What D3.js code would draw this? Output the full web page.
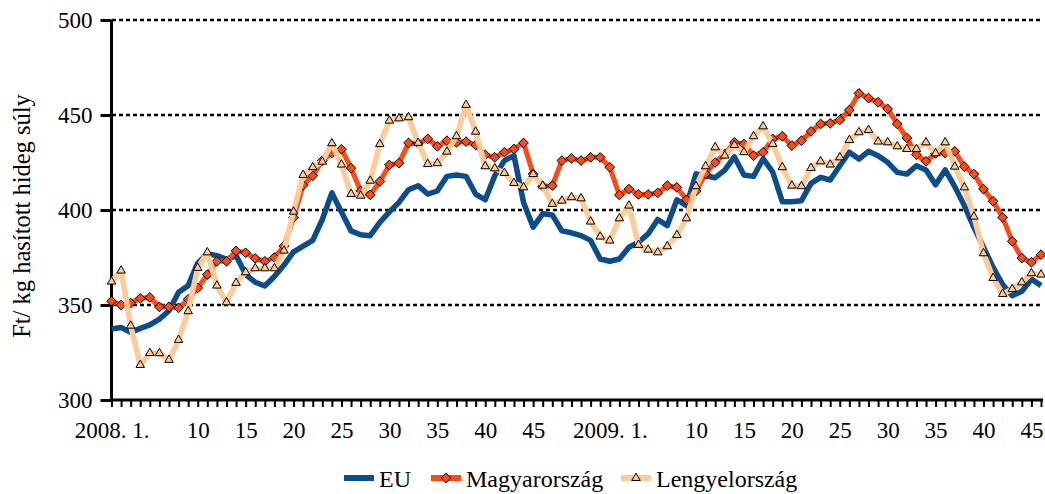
<!DOCTYPE html>
<html>
<head>
<meta charset="utf-8">
<script src="https://cdn.jsdelivr.net/npm/d3@7"></script>
<style>
  html, body { margin: 0; padding: 0; background: #fff; }
  svg { display: block; }
  text { font-family: "Liberation Serif", "DejaVu Serif", serif; fill: #000; }
</style>
</head>
<body>
<svg id="chart" width="1045" height="494"></svg>
<script>
// Categories: weeks of 2008 (1-52) and 2009 (1-46)
const categories = [
  ...d3.range(1, 53).map(w => "2008-" + w),
  ...d3.range(1, 47).map(w => "2009-" + w)
];
const tickCategories = ["2008-1","2008-10","2008-15","2008-20","2008-25","2008-30","2008-35","2008-40","2008-45",
                        "2009-1","2009-10","2009-15","2009-20","2009-25","2009-30","2009-35","2009-40","2009-45"];
const tickLabels = ["2008. 1.","10","15","20","25","30","35","40","45",
                    "2009. 1.","10","15","20","25","30","35","40","45"];
const yTicks = [300, 350, 400, 450, 500];
const gridValues = [350, 400, 450, 500];

const seriesNames = ["EU", "Magyarország", "Lengyelország"];

const euValues = [
  337.4,338.2,335.6,337.7,339.5,342.6,347,356.7,360.2,372,
  377,376,374,376,366,362,360,365,371,378,
  381,384,395,409,399,389,387,386.5,393.5,399,
  404,410.7,412.8,408.4,410,417.7,418.4,417.7,408.4,405.4,
  418,426,428.6,404,391,398,397.4,389,388,386.5,
  384,374.2,373,374.2,380.4,383,387.4,395,391.8,405.4,
  402.3,419,418,417,421,428,418.4,417.7,427,420,
  404.4,404.4,404.9,414,417.2,415.8,423.3,430.4,426.8,430.9,
  428.6,425.1,419.8,418.9,423.3,421.1,413.3,421.1,412.3,402.3,
  390.9,380.4,369.8,360.7,354.9,357.2,363.7,360.2
];
const huValues = [
  352,350,351,353.5,354,349,349,348.5,353,359,
  366,373,373,378.5,377.5,374.5,373,375,381,396,
  413,418,426,430,432,422,410,408,415,423.7,
  424.7,435.3,435,437.4,433.5,436.5,435.6,436,434.2,429,
  427.7,430.4,432.1,435.3,419,412.5,412.8,426,427.2,426,
  427.7,427.7,422.5,407.9,411,408.2,408.2,409,412.8,411.9,
  405.4,410,419,425,429.5,435.6,434.7,428.6,430.4,437.4,
  438.8,433.9,436.5,441.4,445.3,445.6,447.4,452.6,461.4,458.9,
  456.7,453.2,445.3,437.9,429.1,425.6,429.8,430,430.9,422.8,
  418.9,411,404.6,396.1,383.5,374.7,372.5,376.5
];
const plValues = [
  362.3,368.1,339.1,318.4,324.7,324.6,321.1,331.6,346.7,369.5,
  377.7,360.2,351.4,361.6,367.2,369.3,369.3,369.3,378.6,399.1,
  418.4,422.5,425.4,435.1,423.9,408.4,407.5,415.4,434.7,447,
  448.2,448.8,435.3,424.2,424.6,430.7,438.8,455.3,441.2,423,
  421.9,419.5,414.2,411.9,418.9,412.8,403.2,404.9,406.7,406.1,
  393.9,386,383.9,395.6,402.3,381.6,379.1,377.7,380.9,386.8,
  395.6,412.5,423,433,428.6,434.2,430.4,438.8,444,434.7,
  422.5,412.8,412.5,422.1,425.6,423.9,427.7,436.8,440.9,442.1,
  436,435.6,433.5,432.1,432.1,435.6,429.8,435.6,422.8,411.9,
  396.5,377.2,364.2,355.8,358.4,361.9,366.7,366
];

const colors = { eu: "#0b4c8c", hu: "#ff4a14", pl: "#fdca98" };

const svg = d3.select("#chart");
const x = d3.scalePoint().domain(categories).range([111.5, 1041]);
const y = d3.scaleLinear().domain([300, 500]).range([400, 20]);

// gridlines
svg.append("g").selectAll("line").data(gridValues).join("line")
  .attr("x1", 112).attr("x2", 1043)
  .attr("y1", d => y(d)).attr("y2", d => y(d))
  .attr("stroke", "#000").attr("stroke-width", 2.6)
  .attr("stroke-dasharray", "4,3");

// y axis
const yAxis = svg.append("g").attr("transform", "translate(111.5,0)")
  .call(d3.axisLeft(y).tickValues(yTicks).tickSize(11).tickPadding(8).tickFormat(d3.format("d")));
yAxis.select(".domain").attr("stroke", "#000").attr("stroke-width", 3).attr("d", `M0,${y(500)}V${y(300)}`);
yAxis.selectAll(".tick line").attr("stroke", "#000").attr("stroke-width", 3);
yAxis.selectAll(".tick text").style("font-size", "23px").style("font-family", '"Liberation Serif", serif').attr("fill", "#000");

// x axis
const labelMap = new Map(tickCategories.map((c, i) => [c, tickLabels[i]]));
const xAxis = svg.append("g").attr("transform", "translate(0,400)")
  .call(d3.axisBottom(x).tickValues(categories).tickSize(7).tickPadding(15)
    .tickFormat(c => labelMap.get(c) || ""));
xAxis.select(".domain").attr("stroke", "#000").attr("stroke-width", 3).attr("d", "M110,0H1043");
xAxis.selectAll(".tick line").attr("stroke", "#000").attr("stroke-width", 2);
xAxis.selectAll(".tick text").style("font-size", "23px").style("font-family", '"Liberation Serif", serif').attr("fill", "#000");

// y title
svg.append("text")
  .attr("transform", "translate(30,216) rotate(-90)")
  .attr("text-anchor", "middle")
  .style("font-size", "24.5px")
  .text("Ft/ kg hasított hideg súly");

const line = d3.line().x((d, i) => x(categories[i])).y(d => y(d));

const diamond = d3.symbol().type(d3.symbolDiamond2).size(60);
const triangle = d3.symbol().type(d3.symbolTriangle2).size(52);

// EU
svg.append("path").datum(euValues)
  .attr("d", line).attr("fill", "none").attr("stroke", colors.eu)
  .attr("stroke-width", 5.5).attr("stroke-linejoin", "round");

// Magyarország
svg.append("path").datum(huValues)
  .attr("d", line).attr("fill", "none").attr("stroke", colors.hu)
  .attr("stroke-width", 5).attr("stroke-linejoin", "round");
svg.append("g").selectAll("path").data(huValues).join("path")
  .attr("transform", (d, i) => `translate(${x(categories[i])},${y(d)})`)
  .attr("d", diamond).attr("fill", colors.hu).attr("stroke", "#000").attr("stroke-width", 1);

// Lengyelország
svg.append("path").datum(plValues)
  .attr("d", line).attr("fill", "none").attr("stroke", colors.pl)
  .attr("stroke-width", 5.5).attr("stroke-linejoin", "round");
svg.append("g").selectAll("path").data(plValues).join("path")
  .attr("transform", (d, i) => `translate(${x(categories[i])},${y(d)})`)
  .attr("d", triangle).attr("fill", colors.pl).attr("stroke", "#000").attr("stroke-width", 1);

// legend
const legend = svg.append("g").attr("transform", "translate(0,478)");
const items = [
  { name: seriesNames[0], color: colors.eu, x: 344, marker: null },
  { name: seriesNames[1], color: colors.hu, x: 431, marker: diamond },
  { name: seriesNames[2], color: colors.pl, x: 621, marker: triangle }
];
items.forEach(it => {
  legend.append("line").attr("x1", it.x).attr("x2", it.x + 30).attr("y1", 0).attr("y2", 0)
    .attr("stroke", it.color).attr("stroke-width", 6);
  if (it.marker) {
    legend.append("path").attr("transform", `translate(${it.x + 15},0)`)
      .attr("d", it.marker).attr("fill", it.color).attr("stroke", "#000").attr("stroke-width", 1);
  }
  legend.append("text").attr("x", it.x + 35).attr("y", 9)
    .style("font-size", "24px").text(it.name);
});
</script>
</body>
</html>
